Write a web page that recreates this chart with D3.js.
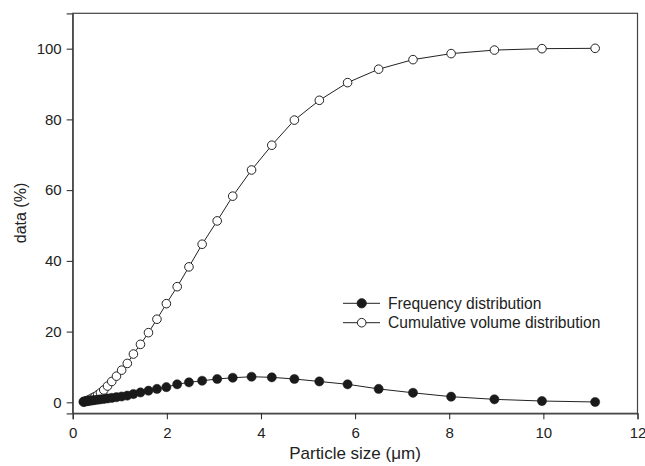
<!DOCTYPE html>
<html>
<head>
<meta charset="utf-8">
<script src="https://cdn.jsdelivr.net/npm/d3@7"></script>
<style>
  html, body { margin: 0; padding: 0; background: #fff; }
  svg { display: block; font-family: "Liberation Sans", Arial, sans-serif; }
</style>
</head>
<body>
<svg id="chart" width="645" height="466"></svg>
<script>
const sizes = [0.23,0.25,0.28,0.31,0.34,0.38,0.42,0.47,0.53,0.59,0.66,0.74,0.83,0.93,1.04,1.16,1.29,1.44,1.61,1.79,1.99,2.22,2.47,2.75,3.07,3.40,3.80,4.23,4.71,5.24,5.84,6.50,7.23,8.04,8.96,9.97,11.10];
const frequency = [0.2,0.25,0.3,0.35,0.4,0.5,0.55,0.65,0.75,0.85,0.95,1.1,1.25,1.45,1.65,1.9,2.35,2.8,3.3,3.8,4.3,5.1,5.65,6.1,6.6,6.95,7.24,7.07,6.6,5.9,5.1,3.8,2.7,1.6,0.85,0.37,0.1];
const cumulative = [0.1,0.2,0.35,0.5,0.7,0.95,1.25,1.6,2.1,2.7,3.5,4.6,5.9,7.4,9.1,11.0,13.65,16.4,19.7,23.5,27.9,32.7,38.3,44.7,51.3,58.3,65.7,72.7,79.8,85.4,90.4,94.2,96.9,98.6,99.6,100.0,100.1];
const xTicks = [0,2,4,6,8,10,12];
const yTicks = [0,20,40,60,80,100];
const seriesNames = ["Frequency distribution","Cumulative volume distribution"];

const svg = d3.select("#chart");
const L = 72.7, R = 637.5, T = 13.3, B = 413.3;
const x = d3.scaleLinear().domain([0,12]).range([L,R]);
const y = d3.scaleLinear().domain([-3.1,110]).range([B,T]);

svg.append("rect").attr("x",L).attr("y",T).attr("width",R-L).attr("height",B-T)
  .attr("fill","none").attr("stroke","#444").attr("stroke-width",1.2);

const xAxis = svg.append("g").attr("transform",`translate(0,${B})`)
  .call(d3.axisBottom(x).tickValues(xTicks).tickSize(6).tickPadding(8).tickFormat(d3.format("d")));
const yAxis = svg.append("g").attr("transform",`translate(${L},0)`)
  .call(d3.axisLeft(y).tickValues(yTicks).tickSize(6).tickPadding(5).tickFormat(d3.format("d")));
[xAxis,yAxis].forEach(g=>{
  g.select(".domain").attr("stroke","#444").attr("stroke-width",1.2);
  g.selectAll(".tick line").attr("stroke","#222").attr("stroke-width",1);
  g.selectAll(".tick text").attr("fill","#222").style("font-size","15px").style("font-family","'Liberation Sans', Arial, sans-serif");
});

const cumData = sizes.map((s,i)=>[s,cumulative[i]]);
const freqData = sizes.map((s,i)=>[s,frequency[i]]);
const line = d3.line().x(d=>x(d[0])).y(d=>y(d[1]));

svg.append("path").datum(cumData).attr("d",line).attr("fill","none").attr("stroke","#222").attr("stroke-width",1);
svg.append("path").datum(freqData).attr("d",line).attr("fill","none").attr("stroke","#222").attr("stroke-width",1);

svg.append("g").selectAll("circle").data(cumData).join("circle")
  .attr("cx",d=>x(d[0])).attr("cy",d=>y(d[1])).attr("r",4.3)
  .attr("fill","#fff").attr("stroke","#222").attr("stroke-width",1);
svg.append("g").selectAll("circle").data(freqData).join("circle")
  .attr("cx",d=>x(d[0])).attr("cy",d=>y(d[1])).attr("r",4.6)
  .attr("fill","#1a1a1a").attr("stroke","#1a1a1a").attr("stroke-width",0.5);

const leg = svg.append("g");
seriesNames.forEach((name,i)=>{
  const ly = 303.3 + i*19.4;
  leg.append("line").attr("x1",343).attr("x2",380).attr("y1",ly).attr("y2",ly).attr("stroke","#222").attr("stroke-width",1);
  leg.append("circle").attr("cx",361.7).attr("cy",ly).attr("r",i===0?4.6:4.3)
    .attr("fill",i===0?"#1a1a1a":"#fff").attr("stroke","#222").attr("stroke-width",1);
  leg.append("text").attr("x",388).attr("y",ly+5.4).attr("fill","#222").style("font-size","15.6px").text(name);
});

svg.append("text").attr("x",355).attr("y",459).attr("text-anchor","middle").attr("fill","#222")
  .style("font-size","17px").text("Particle size (μm)");
svg.append("text").attr("transform","translate(26,213) rotate(-90)").attr("text-anchor","middle").attr("fill","#222")
  .style("font-size","16px").text("data (%)");
</script>
</body>
</html>
